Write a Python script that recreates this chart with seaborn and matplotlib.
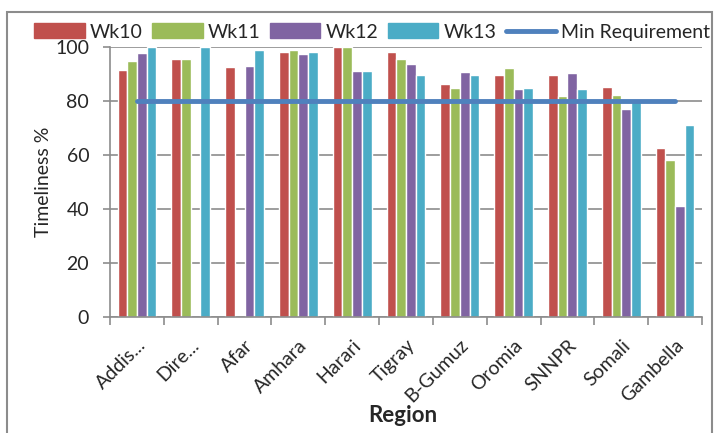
import numpy as np
import pandas as pd
import matplotlib
matplotlib.use("Agg")
import matplotlib.pyplot as plt
import seaborn as sns
from matplotlib.patches import Rectangle
from matplotlib.lines import Line2D
from matplotlib.ticker import FixedLocator
from matplotlib.transforms import ScaledTranslation

# ---------------- data ----------------
regions = ["Addis...", "Dire...", "Afar", "Amhara", "Harari", "Tigray",
           "B-Gumuz", "Oromia", "SNNPR", "Somali", "Gambella"]
wk10 = [91.6, 95.7, 92.7, 98.3, 100.0, 98.3, 86.4, 89.7, 89.7, 85.3, 62.6]
wk11 = [94.9, 95.7, 0.0, 99.0, 100.0, 95.7, 84.9, 92.3, 81.9, 82.3, 58.2]
wk12 = [97.9, 0.0, 93.1, 97.5, 91.2, 93.8, 90.8, 84.5, 90.5, 77.1, 41.1]
wk13 = [100.0, 100.0, 99.0, 98.3, 91.2, 89.7, 89.7, 84.9, 84.5, 80.0, 71.2]
min_req = [80] * len(regions)

weeks = ["Wk10", "Wk11", "Wk12", "Wk13"]
colors = ["#C0504D", "#9BBB59", "#8064A2", "#4BACC6"]
line_color = "#4F81BD"

df = pd.DataFrame({
    "Region": regions * 4,
    "Week": np.repeat(weeks, len(regions)),
    "Timeliness": wk10 + wk11 + wk12 + wk13,
})

# ---------------- plot ----------------
sns.set_theme(style="white")
plt.rcParams["font.family"] = ["Lato", "DejaVu Sans"]

fig = plt.figure(figsize=(7.15, 4.33), dpi=100)
ax = fig.add_axes([110 / 715, 1 - 317 / 433, 592 / 715, 270 / 433])

sns.barplot(data=df, x="Region", y="Timeliness", hue="Week", order=regions,
            hue_order=weeks, palette=colors, width=0.72, gap=0,
            saturation=1, errorbar=None, ax=ax, legend=False)
sns.lineplot(x=np.arange(len(regions)), y=min_req, color=line_color,
             linewidth=3.5, ax=ax)

ax.set_xlim(-0.5, len(regions) - 0.5)
ax.set_ylim(0, 100)
ax.set_yticks(range(0, 101, 20))
ax.yaxis.grid(True, color="#8c8c8c", linewidth=1.2)
ax.set_axisbelow(True)

for s in ["top", "right"]:
    ax.spines[s].set_visible(False)
for s in ["left", "bottom"]:
    ax.spines[s].set_color("#8c8c8c")
    ax.spines[s].set_linewidth(1.2)

ax.set_xticks(range(len(regions)))
ax.set_xticklabels(regions, rotation=45, ha="right", rotation_mode="anchor",
                   fontsize=14)
for lbl in ax.get_xticklabels():
    lbl.set_transform(lbl.get_transform() +
                      ScaledTranslation(0.1, 0, fig.dpi_scale_trans))
ax.xaxis.set_minor_locator(FixedLocator(np.arange(-0.5, len(regions), 1)))
ax.tick_params(axis="x", which="major", length=0, pad=14)
ax.tick_params(axis="x", which="minor", length=6, color="#8c8c8c", width=1.2,
               bottom=True)
ax.tick_params(axis="y", length=5, color="#8c8c8c", width=1.2, left=True,
               labelsize=14, pad=10)

ax.set_ylabel("Timeliness %", fontsize=14)
ax.yaxis.set_label_coords(-0.098, 0.5)
ax.set_xlabel("Region", fontsize=16, fontweight="bold")
ax.xaxis.set_label_coords(0.495, -0.325)

handles = [Rectangle((0, 0), 1, 1, color=c) for c in colors]
handles.append(Line2D([0], [0], color=line_color, linewidth=3.5))
fig.legend(handles, weeks + ["Min Requirement"], loc="center right",
           bbox_to_anchor=(718 / 715, 1 - 32 / 433), ncol=5, frameon=False,
           fontsize=14, handlelength=2.6, handleheight=0.8,
           handletextpad=0.25, columnspacing=0.5, borderaxespad=0)

fig.patches.append(Rectangle((7 / 715, -0.05), 705 / 715, 1 - 12 / 433 + 0.05,
                             transform=fig.transFigure, fill=False,
                             edgecolor="#8c8c8c", linewidth=1.5))

fig.savefig("out.png", dpi=100)
